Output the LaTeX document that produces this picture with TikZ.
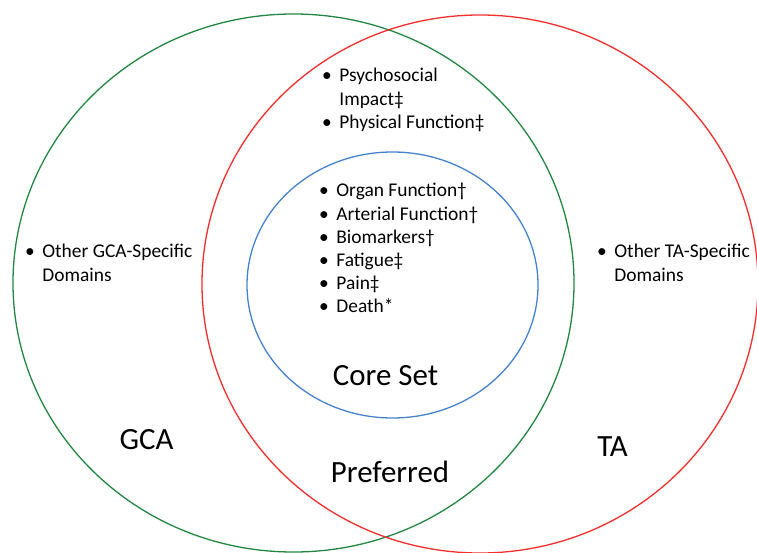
\documentclass[tikz,border=0pt]{standalone}
\usepackage{fontspec}
\setmainfont{Carlito}
\usepackage{tikz}
\usetikzlibrary{shapes.geometric}

\definecolor{gcagreen}{RGB}{35,135,65}
\definecolor{tared}{RGB}{245,45,45}
\definecolor{coreblue}{RGB}{70,130,205}

\tikzset{
  domain set/.style={ellipse, draw, line width=1.3bp, inner sep=0pt},
  domain list/.style={anchor=base west, inner sep=0pt, font=\fontsize{19.5}{23.2}\selectfont},
  set label/.style={anchor=base, inner sep=0pt, font=\fontsize{31}{36}\selectfont},
}
\newcommand{\domainitems}[1]{\begin{tabular}[t]{@{}l@{\hspace{7.5bp}}l@{}}#1\end{tabular}}

\begin{document}
\begin{tikzpicture}[x=1bp,y=-1bp]
	\useasboundingbox (0,0) rectangle (757,553);
	% the three sets
	\node[domain set, draw=gcagreen, minimum width=561bp, minimum height=538bp] (gca) at (293.5,283) {};
	\node[domain set, draw=tared, minimum width=556bp, minimum height=538bp] (ta) at (480,284) {};
	\node[domain set, draw=coreblue, minimum width=291bp, minimum height=266bp] (core) at (392.5,285) {};
	
	% lists of domains
	\node[domain list] (preferred items) at (322,82) {\domainitems{\textbullet & Psychosocial\\ & Impact‡\\ \textbullet & Physical Function‡}};
	\node[domain list] (core items) at (319,197) {\domainitems{\textbullet & Organ Function†\\ \textbullet & Arterial Function†\\ \textbullet & Biomarkers†\\ \textbullet & Fatigue‡\\ \textbullet & Pain‡\\ \textbullet & Death*}};
	\node[domain list] (gca items) at (25,258) {\domainitems{\textbullet & Other GCA-Specific\\ & Domains}};
	\node[domain list] (ta items) at (597,258) {\domainitems{\textbullet & Other TA-Specific\\ & Domains}};
	
	% set names
	\node[set label] (core name) at (385.5,385) {Core Set};
	\node[set label] (preferred name) at (390,482) {Preferred};
	\node[set label] (gca name) at (146.5,449) {GCA};
	\node[set label] (ta name) at (612.5,456) {TA};
\end{tikzpicture}
\end{document}
